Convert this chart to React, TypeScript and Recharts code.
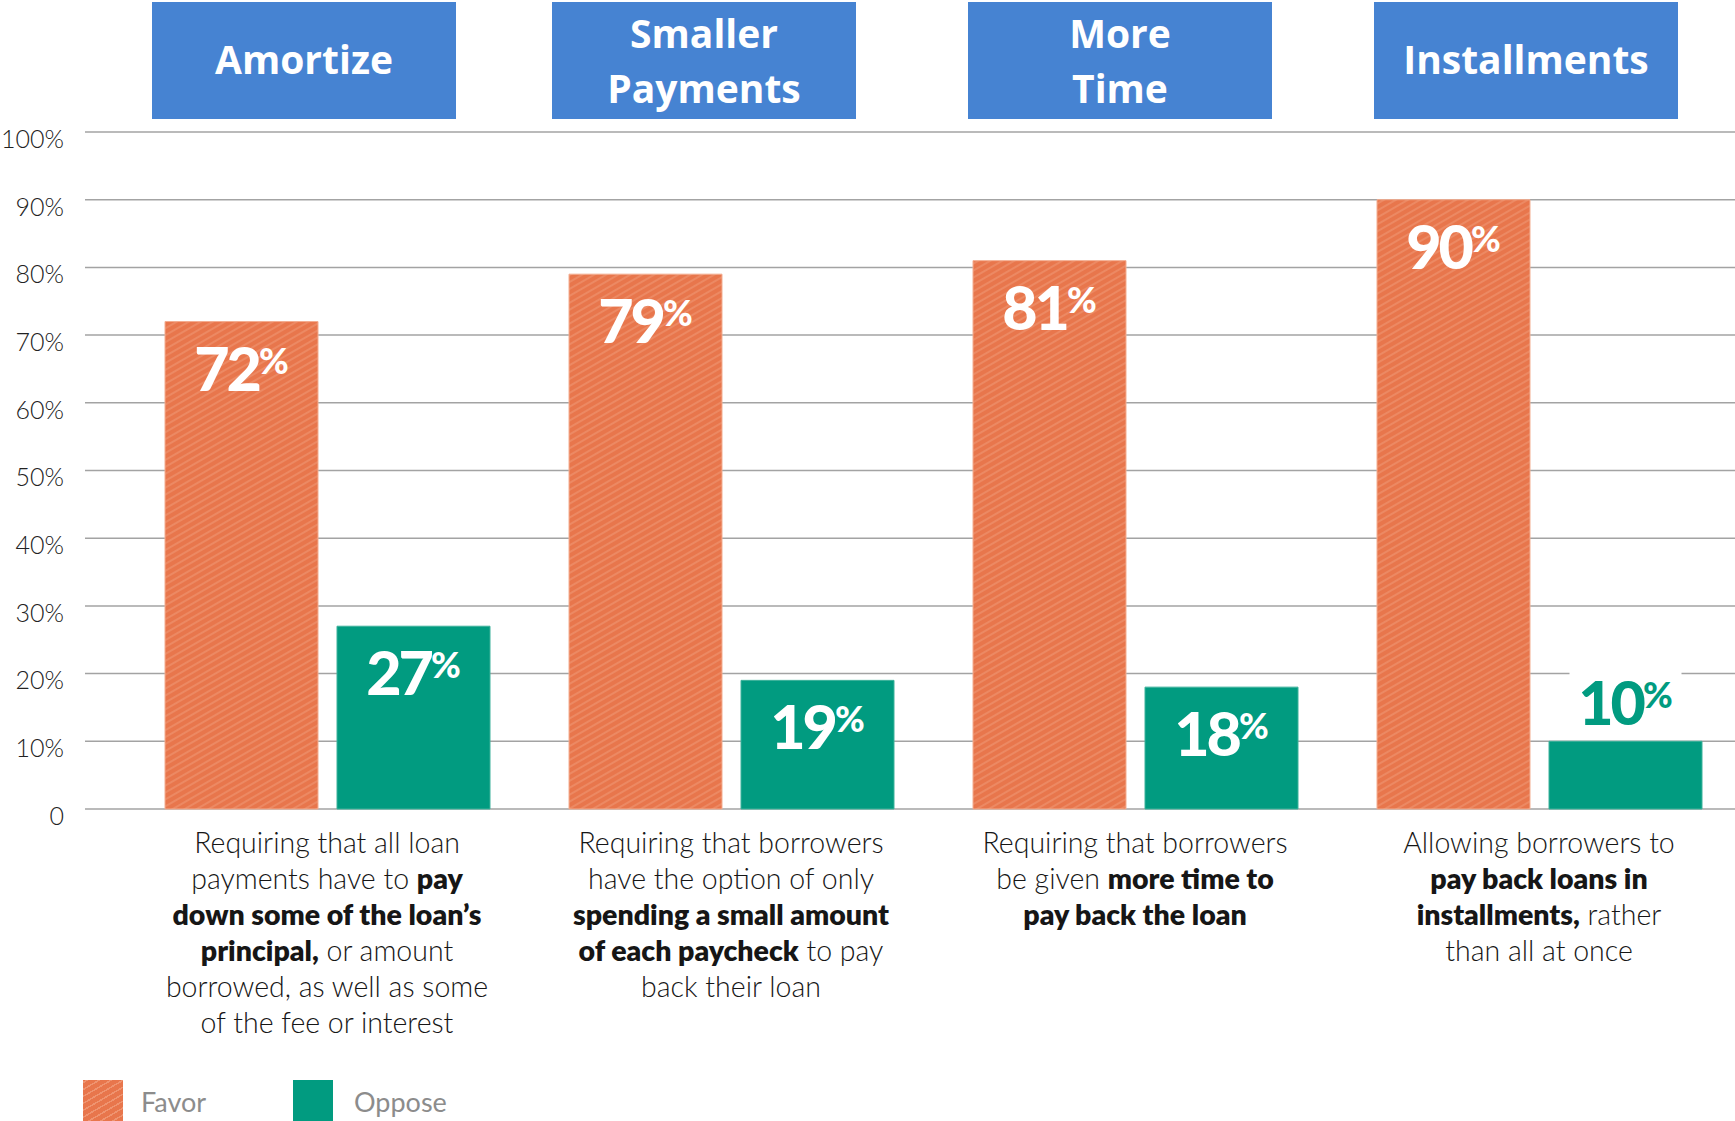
import { BarChart, Bar, XAxis, YAxis, CartesianGrid, Legend, LabelList } from 'recharts';

const categories = ['Amortize', 'Smaller Payments', 'More Time', 'Installments'];
const headerLines = [['Amortize'], ['Smaller', 'Payments'], ['More', 'Time'], ['Installments']];
const favor = [72, 79, 81, 90];
const oppose = [27, 19, 18, 10];
const yTicks = [0, 10, 20, 30, 40, 50, 60, 70, 80, 90, 100];

// *text* marks the bold parts of each line
const descriptions = [
  [
    'Requiring that all loan',
    'payments have to *pay*',
    '*down some of the loan’s*',
    '*principal,* or amount',
    'borrowed, as well as some',
    'of the fee or interest',
  ],
  [
    'Requiring that borrowers',
    'have the option of only',
    '*spending a small amount*',
    '*of each paycheck* to pay',
    'back their loan',
  ],
  ['Requiring that borrowers', 'be given *more time to*', '*pay back the loan*'],
  ['Allowing borrowers to', '*pay back loans in*', '*installments,* rather', 'than all at once'],
];

// the header boxes sit a little left of their bar groups
const headerShift = [-23, -27, -15, -13];

const ORANGE = '#E8764C';
const STRIPE = '#EF9470';
const TEAL = '#019B80';
const BLUE = '#4683D2';

const data = categories.map((name, i) => ({ name, favor: favor[i], oppose: oppose[i] }));

function HeaderTick({ x, payload }: any) {
  const i = categories.indexOf(payload.value);
  const lines = headerLines[i] ?? [];
  const cx = x + (headerShift[i] ?? -20);
  return (
    <g>
      <rect x={cx - 152} y={2} width={304} height={117} fill={BLUE} />
      <text textAnchor="middle" fontFamily="Open Sans" fontWeight={700} fontSize={39} fill="#fff">
        {lines.map((l, li) => (
          <tspan key={li} x={cx} y={lines.length === 1 ? 74 : 48 + li * 55}>
            {l}
          </tspan>
        ))}
      </text>
    </g>
  );
}

function DescTick({ x, y, payload }: any) {
  const lines = descriptions[categories.indexOf(payload.value)] ?? [];
  return (
    <text textAnchor="middle" fontFamily="Lato" fontSize={28.5} fill="#161616">
      {lines.map((line, li) => (
        <tspan key={li} x={x} y={y + 44 + li * 35.9}>
          {line.split('*').map((seg, si) => (
            <tspan key={si} fontWeight={si % 2 ? 800 : 300}>
              {seg}
            </tspan>
          ))}
        </tspan>
      ))}
    </text>
  );
}

function YTick({ x, y, payload }: any) {
  return (
    <text x={x} y={y + 7} dy="0.355em" textAnchor="end" fontFamily="Lato" fontWeight={300} fontSize={25} fill="#222">
      {payload.value === 0 ? '0' : `${payload.value}%`}
    </text>
  );
}

const valueLabel = (props: any) => {
  const { x, y, width, height, value } = props;
  const cx = x + width / 2;
  const inside = height > 80;
  const base = inside ? y + 69 : y - 16;
  return (
    <g>
      {!inside && <rect x={cx - 56} y={y - 88} width={112} height={84} fill="#fff" />}
      <text
        x={cx}
        y={base}
        textAnchor="middle"
        fontFamily="Lato"
        fontWeight={900}
        fontSize={61}
        letterSpacing={-3}
        fill={inside ? '#fff' : TEAL}
      >
        {value}
        <tspan fontSize={36} dy={-17} letterSpacing={0}>
          %
        </tspan>
      </text>
    </g>
  );
};

const legendContent = ({ payload }: any) => (
  <div style={{ display: 'flex', fontFamily: 'Lato', fontSize: 27, color: '#8c8c8c' }}>
    {(payload ?? []).map((p: any) => (
      <div key={p.value} style={{ display: 'flex', width: 210, alignItems: 'flex-start' }}>
        <div
          style={{
            width: 40,
            height: 41,
            background:
              p.dataKey === 'favor'
                ? `repeating-linear-gradient(-30deg, ${ORANGE} 0 4.5px, ${STRIPE} 4.5px 6px)`
                : TEAL,
          }}
        />
        <span style={{ marginLeft: p.dataKey === 'favor' ? 18 : 21, lineHeight: '44px' }}>{p.value}</span>
      </div>
    ))}
  </div>
);

export default function App() {
  return (
    <div style={{ width: 1735, height: 1121, overflow: 'hidden', position: 'relative', background: '#fff' }}>
      <style>{'body{margin:0}'}</style>
      <BarChart
        width={1741}
        height={1121}
        data={data}
        margin={{ top: 102, right: 0, left: 0, bottom: 0 }}
        barSize={153}
        barGap={19}
      >
        <defs>
          <pattern id="hatch" patternUnits="userSpaceOnUse" width={6} height={6} patternTransform="rotate(-30)">
            <rect width={6} height={6} fill={ORANGE} />
            <line x1={0} y1={1} x2={6} y2={1} stroke={STRIPE} strokeWidth={1.3} />
          </pattern>
        </defs>
        <CartesianGrid vertical={false} stroke="#a3a3a3" strokeWidth={1.5} />
        <XAxis
          dataKey="name"
          interval={0}
          height={271}
          tickSize={0}
          tickMargin={0}
          axisLine={false}
          tickLine={false}
          padding={{ left: 40, right: 0 }}
          tick={<DescTick />}
        />
        <XAxis
          xAxisId="top"
          orientation="top"
          dataKey="name"
          interval={0}
          height={30}
          tickSize={0}
          axisLine={false}
          tickLine={false}
          padding={{ left: 40, right: 0 }}
          tick={<HeaderTick />}
        />
        <YAxis
          domain={[0, 100]}
          ticks={yTicks}
          width={85}
          tickSize={0}
          tickMargin={21}
          axisLine={false}
          tickLine={false}
          tick={<YTick />}
        />
        <Legend
          verticalAlign="bottom"
          height={41}
          content={legendContent}
          wrapperStyle={{ left: 83, top: 1080, bottom: 'auto', width: 500, height: 41, overflow: 'hidden' }}
        />
        <Bar dataKey="favor" name="Favor" fill="url(#hatch)" stroke="#F3AD90" strokeWidth={1} isAnimationActive={false}>
          <LabelList dataKey="favor" content={valueLabel} />
        </Bar>
        <Bar dataKey="oppose" name="Oppose" fill={TEAL} stroke="#3DB29B" strokeWidth={1} isAnimationActive={false}>
          <LabelList dataKey="oppose" content={valueLabel} />
        </Bar>
      </BarChart>
    </div>
  );
}
